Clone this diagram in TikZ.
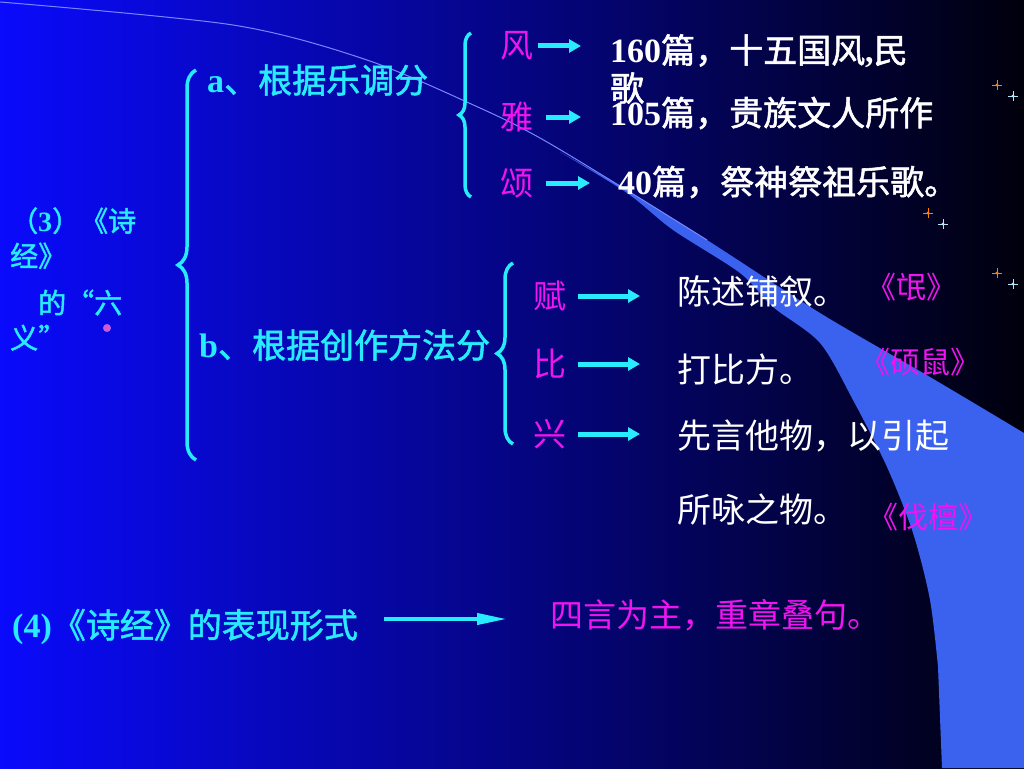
\documentclass[tikz,border=0pt]{standalone}
\usepackage{fontspec}
\setmainfont{Liberation Serif}
\newfontfamily\cjk{Noto Sans CJK SC}
\newfontfamily\cjkbold[FakeBold=1.6]{Noto Sans CJK SC}
\usetikzlibrary{positioning,arrows.meta,decorations.pathreplacing}
\definecolor{slidecyan}{RGB}{40,235,255}
\definecolor{slidepink}{RGB}{240,20,240}
\definecolor{swoosh}{RGB}{58,98,238}
\definecolor{swooshline}{RGB}{120,135,255}
\definecolor{dotpink}{RGB}{200,90,220}
\definecolor{bgleft}{RGB}{10,10,252}
\definecolor{bgmid}{RGB}{0,0,175}
\definecolor{bgright}{RGB}{0,0,12}
\newcommand\digits[1]{{\rmfamily\bfseries #1}}

\begin{document}
\begin{tikzpicture}[x=1pt,y=-1pt]
% Background of the slide
   \useasboundingbox (0,0) rectangle (1024,768);
   \shade[left color=bgleft,middle color=bgmid,right color=bgright] (0,0) rectangle (1024,768);
   \fill[swoosh] plot[smooth] coordinates {(560,152) (620,186) (707,240) (820,313) (930,377) (1024,433)}
      -- (1024,768) -- (942,768)
      -- plot[smooth] coordinates {(938,667) (930,600) (913,533) (887,467) (853,400) (820,343) (773,307) (740,273) (673,230) (627,193) (560,152)} -- cycle;
   \draw[line width=1pt,swooshline] plot[smooth] coordinates {(0,2) (233,25) (367,60) (480,108) (540,138) (620,186) (707,240)};
   \foreach \sx/\sy/\sc in {997/85/orange,1013/96/cyan!30,928/213/orange,943/224/cyan!30,997/273/orange,1013/284/cyan!30}
   {
     \draw[\sc,line width=0.8pt] (\sx-5,\sy) -- (\sx+5,\sy) (\sx,\sy-5) -- (\sx,\sy+5);
     \fill[\sc] (\sx,\sy) circle (1.6);
   }
   \fill[dotpink] (107,328) circle (4);
% The six principles
   \begin{scope}[ node distance=70pt,on grid,
                   head/.style={font=\cjkbold\fontsize{34}{40}\selectfont,text=slidecyan,anchor=west,inner sep=0pt},
                   kind/.style={font=\cjk\fontsize{33}{38}\selectfont,text=slidepink,inner sep=0pt},
                   note/.style={font=\cjk\fontsize{34}{38}\selectfont,text=white,anchor=west,inner sep=0pt},
                   count/.style={note,font=\cjkbold\fontsize{34}{38}\selectfont},
                   poem/.style={font=\cjk\fontsize{30}{34}\selectfont,text=slidepink,anchor=west,inner sep=0pt},
                   arr/.style={draw=slidecyan,line width=5pt,-{Triangle[length=12pt,width=13pt]}},
                   bigarr/.style={draw=slidecyan,line width=4pt,-{Triangle[length=30pt,width=11pt]}},
                   bracket/.style={draw=slidecyan,line width=3.5pt,decorate,decoration={brace,amplitude=#1}} ]
     \node [head,font=\cjkbold\fontsize{28}{35}\selectfont,align=left] (six) at (10,279)
           {（\digits{3}）《诗\\经》\\[12pt]\hspace{28pt}的“六\\义”};
     \node [head]  (bytune)   at (207,80)  {\digits{a}、根据乐调分};
     \node [head]  (bymethod) at (199,345) {\digits{b}、根据创作方法分};
     \draw [bracket=18pt] (196,460) -- (196,70);
     \draw [bracket=12pt] (471,197) -- (471,33);
     \draw [bracket=16pt] (513,444) -- (513,263);
     \node [kind]  (feng)   at (517,46)          {风};
     \node [kind]  (ya)     [below=71pt of feng] {雅};
     \node [kind]  (song)   [below=66pt of ya]   {颂};
     \node [count,align=left] (fengtxt) at (610,69) {\digits{160}篇，十五国风\digits{,}民\\歌};
     \node [count] (yatxt)   at (610,113) {\digits{105}篇，贵族文人所作};
     \node [count] (songtxt) at (618,182) {\digits{40}篇，祭神祭祖乐歌。};
     \draw [arr,shorten <=4pt,shorten >=29pt] (feng.east) -- (feng.east -| fengtxt.west);
     \draw [arr,shorten <=12pt,shorten >=29pt] (ya.east) -- (ya.east -| yatxt.west);
     \draw [arr,shorten <=12pt,shorten >=28pt] (song.east) -- (song.east -| songtxt.west);
     \node [kind]  (fu)     at (550,296)         {赋};
     \node [kind]  (bi)     [below=68pt of fu]   {比};
     \node [kind]  (xing)   [below=70pt of bi]   {兴};
     \node [note]  (futxt)    at (677,292) {陈述铺叙。};
     \node [note]  (bitxt)    at (677,370) {打比方。};
     \node [note]  (xingtxt)  at (677,436) {先言他物，以引起};
     \node [note]  (xingmore) at (677,510) {所咏之物。};
     \draw [arr,shorten <=11pt,shorten >=37pt] (fu.east) -- (fu.east -| futxt.west);
     \draw [arr,shorten <=11pt,shorten >=37pt] (bi.east) -- (bi.east -| bitxt.west);
     \draw [arr,shorten <=11pt,shorten >=37pt] (xing.east) -- (xing.east -| xingtxt.west);
     \node [poem]  (mang)   at (866,287) {《氓》};
     \node [poem]  (shuoshu) at (860,362) {《硕鼠》};
     \node [poem]  (fatan)  at (868,517) {《伐檀》};
% The form of the poems
     \node [head]  (form)   at (12,627)  {\digits{(4)}《诗经》的表现形式};
     \node [kind,anchor=west] (motto) at (550,615) {四言为主，重章叠句。};
     \draw [bigarr,shorten <=26pt,shorten >=43pt] ([yshift=8pt]form.east) -- ([yshift=8pt]form.east -| motto.west);
   \end{scope}
\end{tikzpicture}
\end{document}
